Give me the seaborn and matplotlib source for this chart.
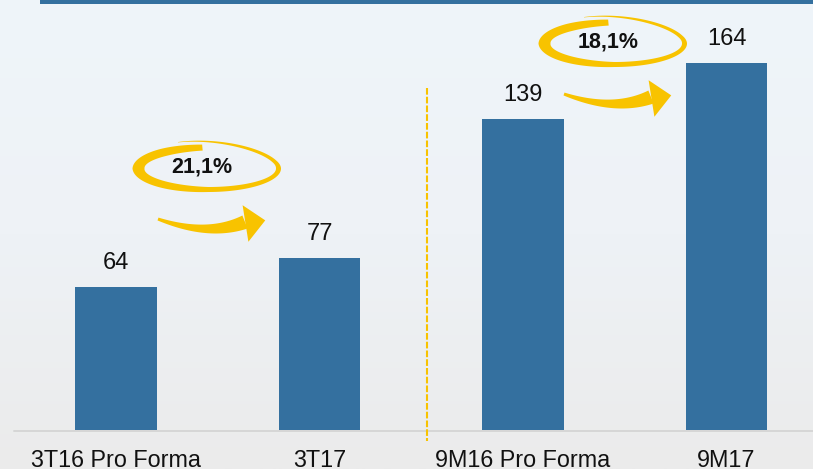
import numpy as np
import pandas as pd
import matplotlib
matplotlib.use("Agg")
import matplotlib.pyplot as plt
import matplotlib.transforms as mtransforms
from matplotlib.patches import Polygon, Rectangle
from matplotlib.colors import LinearSegmentedColormap
import seaborn as sns

# ---- data ----
categories = ["3T16 Pro Forma", "3T17", "9M16 Pro Forma", "9M17"]
values = [64, 77, 139, 164]
growth_labels = ["21,1%", "18,1%"]

sns.set_style("white")
plt.rcParams["font.family"] = ["Liberation Sans", "DejaVu Sans"]

W, H = 813, 469
BAR = "#34709f"
GOLD = "#f8c300"

fig = plt.figure(figsize=(W / 100, H / 100), dpi=100)

# background gradient
bg = fig.add_axes([0, 0, 1, 1], zorder=-10)
grad = np.linspace(0, 1, 256).reshape(-1, 1)
cmap = LinearSegmentedColormap.from_list("bg", ["#eff5fa", "#eef2f6", "#ebebeb"])
bg.imshow(grad, aspect="auto", cmap=cmap, extent=[0, 1, 0, 1], origin="upper")
bg.axis("off")

# main axes
px_per_unit = 2.237
ax = fig.add_axes([0, 39 / H, 1, 430 / H])
ax.patch.set_alpha(0)
df = pd.DataFrame({"cat": categories, "val": values})
sns.barplot(data=df, x="cat", y="val", color=BAR, saturation=1, width=0.4,
            linewidth=0, ax=ax)
ax.set_xlim(-116 / 203.5, (W - 116) / 203.5)
ax.set_ylim(0, 430 / px_per_unit)
for s in ax.spines.values():
    s.set_visible(False)
ax.set_xlabel("")
ax.set_ylabel("")
ax.set_yticks([])
ax.tick_params(axis="x", length=0, pad=13.5, labelsize=16.8, labelcolor="#111111")

# baseline
ax.plot([-0.5, 10], [-0.4, -0.4], color="#d6d6d6", lw=1.4, clip_on=False, zorder=1)

# value labels
for i, v in enumerate(values):
    ax.annotate(f"{v}", (i, v), xytext=(0, 24 * 0.72), textcoords="offset points",
                ha="center", va="center", fontsize=17, color="#111111")

# vertical dashed separator
ax.plot([1.53, 1.53], [(430 - 88) / px_per_unit, (430 - 441) / px_per_unit],
        color=GOLD, lw=1.5, dashes=(3.2, 1.0), clip_on=False, zorder=3)

# pixel transform (y from top)
tp = mtransforms.Affine2D().scale(1 / W, -1 / H).translate(0, 1) + fig.transFigure

# top line
fig.add_artist(Rectangle((40, 0), W - 40, 4, transform=tp, color=BAR, lw=0))


def ring(cx, cy, a, b):
    t = np.radians(np.linspace(95, 475, 400))
    deg = np.degrees(t)
    gb = 1 + 0.38 * np.clip((deg - 380) / 95, 0, 1)
    ga = 1 + 0.03 * np.clip((deg - 380) / 95, 0, 1)
    tk = np.interp(deg, [95, 130, 180, 230, 270, 360, 420, 475],
                   [6, 9, 12, 8, 5, 5, 2.8, 0.4])
    xo = cx + (a * ga + tk / 2) * np.cos(t)
    yo = cy - (b * gb + tk / 2) * np.sin(t)
    xi = cx + (a * ga - tk / 2) * np.cos(t)
    yi = cy - (b * gb - tk / 2) * np.sin(t)
    pts = np.concatenate([np.c_[xo, yo], np.c_[xi, yi][::-1]])
    fig.add_artist(Polygon(pts, closed=True, transform=tp, color=GOLD, lw=0))


def arrow(dx, dy):
    P0 = np.array([158.0, 219.0]) + [dx, dy]
    P1 = np.array([208.0, 237.0]) + [dx, dy]
    P2 = np.array([245.0, 222.0]) + [dx, dy]
    s = np.linspace(0, 1, 120)[:, None]
    pts = (1 - s) ** 2 * P0 + 2 * (1 - s) * s * P1 + s ** 2 * P2
    d = 2 * (1 - s) * (P1 - P0) + 2 * s * (P2 - P1)
    d = d / np.linalg.norm(d, axis=1, keepdims=True)
    n = np.c_[-d[:, 1], d[:, 0]]
    w = np.interp(s[:, 0], [0, 0.5, 1], [1.5, 4.2, 7.0])[:, None]
    body = np.concatenate([pts + n * w, (pts - n * w)[::-1]])
    fig.add_artist(Polygon(body, closed=True, transform=tp, color=GOLD, lw=0))
    ang = np.radians(9)
    de = np.array([np.cos(ang), -np.sin(ang)])
    ne = np.array([np.sin(ang), np.cos(ang)])
    base = P2 + np.array([0.5, 1.5])
    tip = base + 20 * de
    head = np.array([base + 18.5 * ne, tip, base - 18.5 * ne])
    fig.add_artist(Polygon(head, closed=True, transform=tp, color=GOLD, lw=0))


offsets = [(0, 0), (406, -125)]
for (dx, dy), lab in zip(offsets, growth_labels):
    ring(208.5 + dx, 168.5 + dy, 70, 21)
    arrow(dx, dy)
    fig.text((202 + dx) / W, 1 - (167 + dy) / H, lab, ha="center", va="center",
             fontsize=15.5, fontweight="bold", color="#111111")

fig.savefig("out.png", dpi=100)
